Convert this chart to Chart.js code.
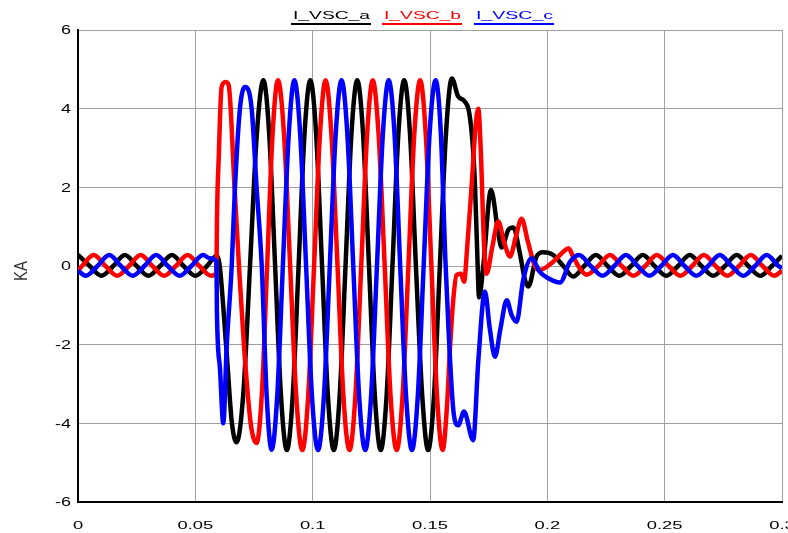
<!DOCTYPE html>
<html>
<head>
<meta charset="utf-8">
<title>I_VSC</title>
<script src="https://cdn.jsdelivr.net/npm/chart.js@4.4.1/dist/chart.umd.min.js"></script>
<style>
  html, body { margin: 0; padding: 0; background: #fff; }
  #wrap { width: 788px; height: 533px; position: relative; }
</style>
</head>
<body>
<div id="wrap"><canvas id="plot"></canvas></div>
<script>
// time (s) and current (kA), one pair of arrays per phase
const tA = [0, 0.005, 0.01, 0.015, 0.02, 0.025, 0.03, 0.035, 0.04, 0.045, 0.05, 0.055, 0.0591,
  0.0603, 0.0631, 0.0656, 0.0676, 0.0705, 0.0733, 0.0762, 0.079, 0.0815, 0.084, 0.0865, 0.089,
  0.0915, 0.094, 0.0965, 0.099, 0.1015, 0.104, 0.1065, 0.109, 0.1115, 0.114, 0.1165, 0.119,
  0.1215, 0.124, 0.1265, 0.129, 0.1315, 0.134, 0.1365, 0.139, 0.1415, 0.144, 0.1467, 0.1492,
  0.1517, 0.1542, 0.1568, 0.1593,
  0.162, 0.1645, 0.1667, 0.1683, 0.1692, 0.1701, 0.1709, 0.1727, 0.176, 0.1791, 0.1805, 0.1834,
  0.1855, 0.1883, 0.1905, 0.1919, 0.1954, 0.1982, 0.2025, 0.2068, 0.211,
  0.2157, 0.2207, 0.2257, 0.2307, 0.2357, 0.2407, 0.2457, 0.2507, 0.2557, 0.2607, 0.2657, 0.2707,
  0.2757, 0.2807, 0.2857, 0.2907, 0.2957, 0.3];
const iA = [0.28, 0, -0.25, 0, 0.28, 0, -0.25, 0, 0.28, 0, -0.25, 0, 0.26,
  0.05, -2.0, -4.0, -4.48, -3.2, 0, 3.35, 4.72, 3.34, 0, -3.31, -4.68,
  -3.31, 0, 3.34, 4.72, 3.34, 0, -3.31, -4.68, -3.31, 0, 3.34, 4.72,
  3.34, 0, -3.31, -4.68, -3.31, 0, 3.34, 4.72, 3.34, 0, -3.31, -4.68,
  -3.31, 0, 3.36, 4.77,
  4.31, 4.2, 3.9, 3.0, 2.0, 0.4, -0.8, 0, 1.93, 0.83, 0.47, 0.92,
  0.98, 0.32, -0.36, -0.52, 0.24, 0.35, 0.28, 0, -0.27,
  0, 0.28, 0, -0.25, 0, 0.28, 0, -0.25, 0, 0.28, 0, -0.25,
  0, 0.28, 0, -0.25, 0, 0.26];

const tB = [0, 0.0017, 0.0067, 0.0117, 0.0167, 0.0217, 0.0267, 0.0317, 0.0367, 0.0417, 0.0467,
  0.0517, 0.0567, 0.059,
  0.0592, 0.06, 0.0612, 0.0629, 0.0642, 0.0667, 0.0686, 0.0707, 0.0736, 0.0761, 0.0784, 0.0806,
  0.0829, 0.0852, 0.0878, 0.0904, 0.093, 0.0956, 0.0981, 0.1006, 0.1031, 0.1055, 0.108, 0.1106,
  0.1131, 0.1157, 0.1182, 0.1207, 0.1232, 0.1256, 0.1281, 0.1307, 0.1332, 0.1358, 0.1383, 0.1408,
  0.1433, 0.1458, 0.1482, 0.1506, 0.153, 0.1554,
  0.1572, 0.1586, 0.1599, 0.1613, 0.1632, 0.1645, 0.166, 0.1677, 0.1695, 0.1706, 0.1716, 0.173,
  0.1741, 0.1766, 0.1791, 0.1816, 0.1841, 0.1866, 0.189, 0.1918, 0.1947, 0.1968, 0.2025, 0.2068,
  0.209, 0.211, 0.2132, 0.2167,
  0.2217, 0.2267, 0.2317, 0.2367, 0.2417, 0.2467, 0.2517, 0.2567, 0.2617, 0.2667, 0.2717, 0.2767,
  0.2817, 0.2867, 0.2917, 0.2967, 0.3];
const iB = [-0.12, 0, 0.28, 0, -0.25, 0, 0.28, 0, -0.25, 0, 0.28,
  0, -0.25, -0.19,
  1.1, 2.8, 4.55, 4.68, 4.6, 2.0, 0, -2.0, -4.0, -4.5, -3.2, 0,
  3.34, 4.72, 3.34, 0, -3.31, -4.68, -3.31, 0, 3.34, 4.72, 3.34, 0,
  -3.31, -4.68, -3.31, 0, 3.34, 4.72, 3.34, 0, -3.31, -4.68, -3.31, 0,
  3.34, 4.72, 3.34, 0, -3.31, -4.68,
  -3.6, -2.0, -0.87, -0.23, -0.2, -0.4, 0.6, 2.0, 3.6, 4.0, 3.0, 0.6,
  -0.2, 0.5, 1.13, 0.6, 0.24, 0.75, 1.2, 0.6, 0, -0.1, 0.11, 0.36,
  0.45, 0.24, 0, -0.22,
  0, 0.28, 0, -0.25, 0, 0.28, 0, -0.25, 0, 0.28, 0, -0.25,
  0, 0.28, 0, -0.25, -0.12];

const tC = [0, 0.0033, 0.0083, 0.0133, 0.0183, 0.0233, 0.0283, 0.0333, 0.0383, 0.0433, 0.0483,
  0.0533, 0.056, 0.059,
  0.0592, 0.0605, 0.0619, 0.0634, 0.0655, 0.0669, 0.069, 0.0712, 0.074, 0.0761, 0.0783, 0.0804,
  0.0825, 0.0849, 0.0873, 0.0898, 0.0922, 0.0947, 0.0972, 0.0997, 0.1023, 0.1048, 0.1073, 0.1098,
  0.1123, 0.1148, 0.1173, 0.1198, 0.1224, 0.1249, 0.1274, 0.1299, 0.1324, 0.1349, 0.1373, 0.1398,
  0.1423, 0.1448, 0.1473, 0.1498, 0.1524,
  0.1546, 0.1566, 0.1582, 0.16, 0.162, 0.1645, 0.1684, 0.1706, 0.1734, 0.1755, 0.1777, 0.18,
  0.1827, 0.1848, 0.1869, 0.1897, 0.1933, 0.1968, 0.2, 0.2054, 0.2096, 0.2135,
  0.2185, 0.2235, 0.2285, 0.2335, 0.2385, 0.2435, 0.2485, 0.2535, 0.2585, 0.2635, 0.2685, 0.2735,
  0.2785, 0.2835, 0.2885, 0.2935, 0.2985, 0.3];
const iC = [-0.12, -0.25, 0, 0.28, 0, -0.25, 0, 0.28, 0, -0.25, 0,
  0.28, 0.2, 0.12,
  -1.16, -2.6, -4.0, -2.0, 0, 2.0, 4.0, 4.55, 4.0, 2.0, 0, -3.3,
  -4.67, -3.31, 0, 3.34, 4.72, 3.34, 0, -3.31, -4.68, -3.31, 0, 3.34,
  4.72, 3.34, 0, -3.31, -4.68, -3.31, 0, 3.34, 4.72, 3.34, 0, -3.31,
  -4.68, -3.31, 0, 3.34, 4.72,
  3.4, 0.1, -2.0, -3.7, -4.05, -3.7, -4.43, -2.4, -0.65, -1.6, -2.31, -1.6,
  -0.87, -1.25, -1.42, -0.36, 0.2, -0.15, -0.3, -0.42, 0.1, 0.28,
  0, -0.25, 0, 0.28, 0, -0.25, 0, 0.28, 0, -0.25, 0, 0.28,
  0, -0.25, 0, 0.28, 0, -0.05];

const seriesNames = ['I_VSC_a', 'I_VSC_b', 'I_VSC_c'];
const seriesColors = ['#000000', '#ff0000', '#0000ff'];
const xTickLabels = ['0', '0.05', '0.1', '0.15', '0.2', '0.25', '0.3'];
const yTickLabels = ['6', '4', '2', '0', '-2', '-4', '-6'];
const yTitle = 'KA';

const FONT = '"Liberation Sans", Arial, sans-serif';

function points(ts, vs) {
  return ts.map((t, i) => ({ x: t, y: vs[i] }));
}

// PSCAD text looks horizontally stretched, so draw it scaled
function wideText(ctx, text, x, y, sx, align) {
  ctx.save();
  ctx.translate(x, y);
  ctx.scale(sx, 1);
  ctx.textAlign = align;
  ctx.fillText(text, 0, 0);
  ctx.restore();
}

const pscadText = {
  id: 'pscadText',
  afterDraw(chart) {
    const ctx = chart.ctx;
    const xs = chart.scales.x;
    const ys = chart.scales.y;
    ctx.save();
    ctx.fillStyle = '#000';
    ctx.textBaseline = 'middle';

    ctx.font = '12px ' + FONT;
    yTickLabels.forEach(l => wideText(ctx, l, 71, ys.getPixelForValue(+l) + 1, 1.5, 'right'));

    ctx.font = '10.5px ' + FONT;
    xTickLabels.forEach(l => wideText(ctx, l, xs.getPixelForValue(+l), 526, 1.75, 'center'));

    // y axis title
    ctx.save();
    ctx.translate(22, 271);
    ctx.rotate(-Math.PI / 2);
    ctx.scale(1, 1.2);
    ctx.font = '15px ' + FONT;
    ctx.textAlign = 'center';
    ctx.fillStyle = '#333';
    ctx.fillText(yTitle, 0, 0);
    ctx.restore();

    // legend: name with a coloured line underneath
    const legendLeft = [291, 382, 474];
    ctx.font = '11.5px ' + FONT;
    ctx.textBaseline = 'alphabetic';
    seriesNames.forEach((name, i) => {
      const w = ctx.measureText(name).width;
      ctx.fillStyle = seriesColors[i];
      wideText(ctx, name, legendLeft[i] + 2, 19, 77 / w, 'left');
      ctx.fillRect(legendLeft[i], 23, 80, 2);
    });
    ctx.restore();
  }
};

const grid = { color: '#a0a0a0', lineWidth: 1, drawTicks: false };
const axisLine = { display: true, color: '#000', width: 2 };

new Chart(document.getElementById('plot'), {
  type: 'line',
  data: {
    datasets: [
      { label: seriesNames[0], data: points(tA, iA), borderColor: seriesColors[0], order: 3 },
      { label: seriesNames[1], data: points(tB, iB), borderColor: seriesColors[1], order: 2 },
      { label: seriesNames[2], data: points(tC, iC), borderColor: seriesColors[2], order: 1 }
    ]
  },
  options: {
    responsive: true,
    maintainAspectRatio: false,
    animation: false,
    layout: { padding: { left: 78, right: 6, top: 30, bottom: 31 } },
    elements: {
      point: { radius: 0 },
      line: { borderWidth: 4.5, cubicInterpolationMode: 'monotone', fill: false }
    },
    plugins: {
      legend: { display: false },
      tooltip: { enabled: false }
    },
    scales: {
      x: {
        type: 'linear',
        min: 0,
        max: 0.3,
        afterBuildTicks: s => { s.ticks = xTickLabels.map(l => ({ value: +l })); },
        ticks: { display: false },
        grid: grid,
        border: axisLine
      },
      y: {
        min: -6,
        max: 6,
        afterBuildTicks: s => { s.ticks = yTickLabels.map(l => ({ value: +l })); },
        ticks: { display: false },
        grid: grid,
        border: axisLine
      }
    }
  },
  plugins: [pscadText]
});
</script>
</body>
</html>
